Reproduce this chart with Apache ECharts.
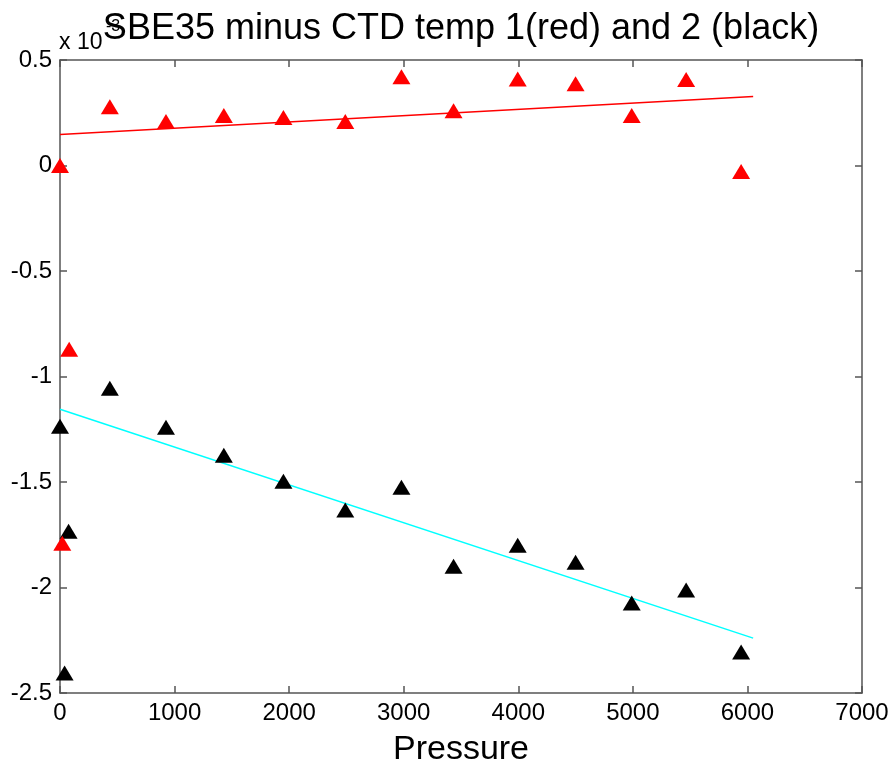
<!DOCTYPE html>
<html><head><meta charset="utf-8">
<script src="https://cdn.jsdelivr.net/npm/echarts@6/dist/echarts.min.js"></script>
<style>html,body{margin:0;padding:0;background:#fff}#c{width:891px;height:768px}</style>
</head><body><div id="c"></div>
<script>
// values in units of 1e-3
const redPts = [[0,0.0],[80,-0.871],[435,0.279],[925,0.208],[1430,0.237],[1950,0.227],[2490,0.208],[2980,0.421],[3435,0.26],[3995,0.41],[4500,0.388],[4990,0.237],[5465,0.407],[5945,-0.028],[20,-1.79]];
const blackPts = [[0,-1.236],[435,-1.056],[925,-1.24],[1430,-1.373],[1950,-1.496],[2490,-1.633],[2980,-1.525],[3435,-1.899],[3995,-1.8],[4500,-1.88],[4990,-2.074],[5465,-2.012],[5945,-2.306],[75,-1.733],[40,-2.405]];
const redFit = [[0,0.147],[6050,0.327]];
const cyanFit = [[0,-1.155],[6050,-2.24]];
const xTicks = [0,1000,2000,3000,4000,5000,6000,7000];
const yTicks = [0.5,0,-0.5,-1,-1.5,-2,-2.5];

const axisCol = '#555';
const font = 'Liberation Sans, Arial, sans-serif';
const chart = echarts.init(document.getElementById('c'));
const baseX = {type:'value',min:0,max:7000,interval:1000,
  axisLine:{show:true,onZero:false,lineStyle:{color:axisCol,width:1.5}},
  axisTick:{show:true,inside:true,length:7,lineStyle:{color:axisCol,width:1.5}},
  splitLine:{show:false}};
const baseY = {type:'value',min:-2.5,max:0.5,interval:0.5,
  axisLine:{show:true,onZero:false,lineStyle:{color:axisCol,width:1.5}},
  axisTick:{show:true,inside:true,length:7,lineStyle:{color:axisCol,width:1.5}},
  splitLine:{show:false}};
chart.setOption({
  animation:false,
  graphic:[
    {type:'text',left:59,top:31,z:1,style:{text:'x 10',fontSize:23,fontFamily:font,fill:'#000'}},
    {type:'text',left:106,top:19,z:1,style:{text:'-3',fontSize:16,fontFamily:font,fill:'#000'}},
    {type:'text',x:461,y:29,z:10,style:{text:'SBE35 minus CTD temp 1(red) and 2 (black)',fontSize:36,fontFamily:font,fill:'#000',align:'center',verticalAlign:'middle'}}
  ],
  grid:{left:60,right:29,top:60,bottom:75,outerBoundsMode:'none',containLabel:false},
  xAxis:[
    Object.assign({},baseX,{position:'bottom',name:'Pressure',nameLocation:'middle',nameGap:40,
      nameTextStyle:{fontFamily:font,fontSize:34,color:'#000'},
      axisLabel:{fontFamily:font,fontSize:24,color:'#000',margin:8,formatter:v=>xTicks.includes(v)?String(v):''}}),
    Object.assign({},baseX,{position:'top',axisLabel:{show:false}})
  ],
  yAxis:[
    Object.assign({},baseY,{position:'left',axisLabel:{fontFamily:font,fontSize:24,color:'#000',margin:8,
      formatter:v=>yTicks.includes(v)?String(v):''}}),
    Object.assign({},baseY,{position:'right',axisLabel:{show:false}})
  ],
  series:[
    {type:'line',data:redFit,symbol:'none',lineStyle:{color:'#ff0000',width:1.5},z:3},
    {type:'line',data:cyanFit,symbol:'none',lineStyle:{color:'#00ffff',width:1.5},z:3},
    {type:'scatter',data:blackPts,symbol:'triangle',symbolSize:[18,15],itemStyle:{color:'#000',opacity:1},z:4},
    {type:'scatter',data:redPts,symbol:'triangle',symbolSize:[18,15],itemStyle:{color:'#ff0000',opacity:1},z:5}
  ]
});
</script></body></html>
